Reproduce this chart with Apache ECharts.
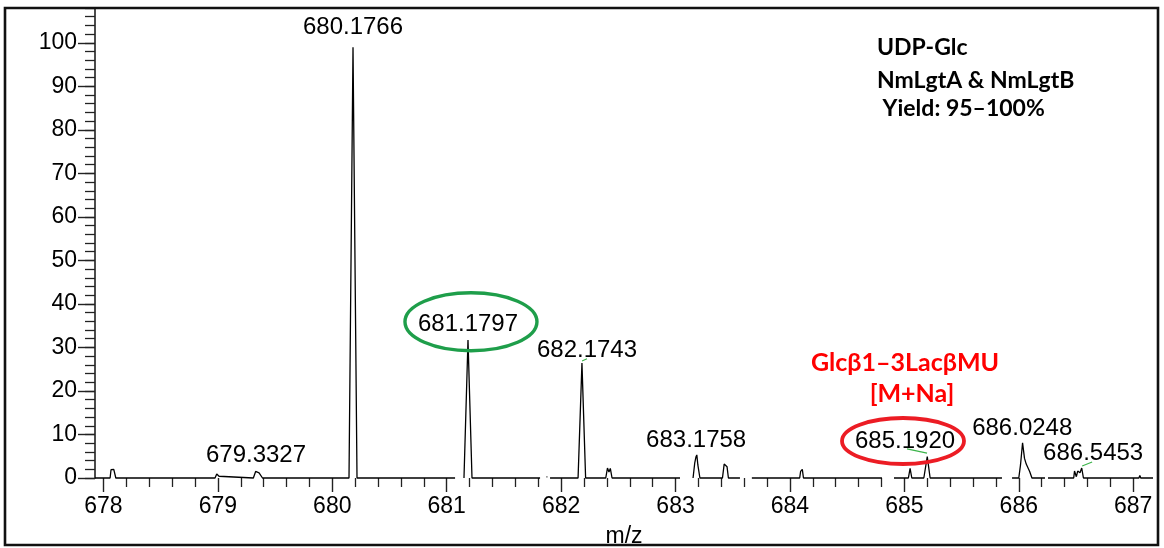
<!DOCTYPE html>
<html><head><meta charset="utf-8">
<script src="https://cdn.jsdelivr.net/npm/echarts@6/dist/echarts.min.js"></script>
<style>html,body{margin:0;padding:0;background:#fff}#c{width:1164px;height:548px}</style>
</head><body><div id="c"></div>
<script>
// ---- axis ticks ----
const xTicks = [678, 679, 680, 681, 682, 683, 684, 685, 686, 687];
const yTicks = [0, 10, 20, 30, 40, 50, 60, 70, 80, 90, 100];
const xRange = [677.926, 687.173];
const yRange = [0, 108];

// ---- spectrum trace (m/z, relative abundance); null = break in trace ----
const traceMz = [
  677.926, 678.058, 678.066, 678.075, 678.090, 678.100, 678.108, 678.975, 678.990, 679.005, 679.010, 679.020,
  679.310, 679.330, 679.345, 679.360, 679.390, 680.146, 680.181, 680.216, 681.073, null,
  681.151, 681.186, 681.221, 681.816, null,
  681.872, 681.880, null,
  681.903, 682.148, 682.182, 682.214, 682.390, 682.405, 682.418, 682.430, 682.445, 683.039, null,
  683.153, 683.168, 683.178, 683.186, 683.195, 683.213, 683.410, 683.425, 683.440, 683.450, 683.462, 683.563, null,
  683.667, 684.085, 684.093, 684.100, 684.108, 684.118, 684.804, null,
  684.909, 685.035, 685.050, 685.065, 685.170, 685.200, 685.225, 685.853, null,
  685.941, 686.000, 686.015, 686.033, 686.050, 686.065, 686.080, 686.095, 686.115, 686.229, null,
  686.255, 686.480, 686.487, 686.495, 686.503, 686.515, 686.525, 686.535, 686.550, 686.565, 687.050, 687.058, 687.066, 687.173
];
const traceInt = [
  0, 0, 1.9, 2.1, 2.0, 1.6, 0, 0, 0.9, 1.0, 0.4, 0,
  0, 1.5, 1.7, 1.2, 0, 0, 99, 0, 0, null,
  0, 31.7, 0, 0, null,
  0.25, 0.25, null,
  0, 0, 26.4, 0, 0, 2.3, 1.4, 2.2, 0, 0, null,
  0, 3.5, 4.8, 5.3, 3.0, 0, 0, 3.2, 3.4, 2.6, 0, 0, null,
  0, 0, 1.5, 1.3, 2.0, 0, 0, null,
  0, 0, 2.2, 0, 0, 4.9, 0, 0, null,
  0, 0, 3.0, 8.1, 4.5, 3.2, 3.6, 1.5, 0, 0, null,
  0, 0, 1.6, 1.4, 0.3, 1.6, 2.0, 1.2, 2.3, 0, 0, 0.6, 0, 0
];

// ---- peak labels (text, label centre m/z, label centre abundance) ----
const peakLabelText = ['679.3327', '680.1766', '681.1797', '682.1743', '683.1758', '685.1920', '686.0248', '686.5453'];
const peakLabelMz   = [679.333, 680.181, 681.186, 682.226, 683.180, 685.006, 686.030, 686.650];
const peakLabelInt  = [5.3, 103.6, 35.2, 29.4, 8.7, 8.5, 11.5, 5.7];

// ---- green leader lines ----
const leaderMz  = [682.183, 682.226, null, 685.023, 685.198, null, 686.554, 686.641];
const leaderInt = [26.9, 27.4, null, 6.7, 5.7, null, 2.76, 3.68];

// ---- highlight ellipses (centre m/z, centre abundance) ----
const ellipseMz  = [681.212, 684.988];
const ellipseInt = [35.9, 8.5];

const annotationLines = ['UDP-Glc', 'NmLgtA & NmLgtB', ' Yield: 95–100%'];
const productLines = ['Glcβ1–3LacβMU', '[M+Na]'];

// minor tick positions
const xMinor = [];
for (let i = 0; i < xTicks.length - 1; i++) for (let k = 1; k < 5; k++) xMinor.push(+(xTicks[i] + k * 0.2).toFixed(1));
const yMinor = [];
for (let v = 0; v <= 108; v += 2) yMinor.push(v);

const trace = traceMz.map((m, i) => m === null ? ['-', '-'] : [m, traceInt[i]]);
const leaders = leaderMz.map((m, i) => m === null ? ['-', '-'] : [m, leaderInt[i]]);
const labelPts = peakLabelText.map((t, i) => ({ name: t, value: [peakLabelMz[i], peakLabelInt[i]] }));

const NUMF = "'Liberation Sans', Arial, sans-serif";
const BOLDF = "Lato, 'Noto Sans', sans-serif";
const chart = echarts.init(document.getElementById('c'), null, { renderer: 'canvas' });

const option = {
  animation: false,
  backgroundColor: '#fff',
  grid: { left: 95, right: 11, top: 8, bottom: 70, containLabel: false, outerBoundsMode: 'none' },
  xAxis: [
    {
      type: 'value', min: xRange[0], max: xRange[1],
      name: 'm/z', nameLocation: 'middle', nameGap: 47,
      nameTextStyle: { fontFamily: NUMF, fontSize: 23, color: '#000' },
      axisLine: { show: false },
      axisTick: { show: true, inside: false, length: 14, customValues: xTicks, lineStyle: { color: '#222', width: 1.4 } },
      axisLabel: { show: true, margin: 17, customValues: xTicks, fontFamily: NUMF, fontSize: 23, color: '#000' },
      splitLine: { show: false }
    },
    {
      type: 'value', min: xRange[0], max: xRange[1], position: 'bottom',
      axisLine: { show: false },
      axisTick: { show: true, inside: false, length: 9, customValues: xMinor, lineStyle: { color: '#222', width: 1.3 } },
      axisLabel: { show: false },
      splitLine: { show: false }
    }
  ],
  yAxis: [
    {
      type: 'value', min: yRange[0], max: yRange[1],
      axisLine: { show: true, lineStyle: { color: '#111', width: 1.5 } },
      axisTick: { show: true, inside: false, length: 17, customValues: yTicks, lineStyle: { color: '#222', width: 1.4 } },
      axisLabel: { show: true, margin: 18, customValues: yTicks, fontFamily: NUMF, fontSize: 23, color: '#000' },
      splitLine: { show: false }
    },
    {
      type: 'value', min: yRange[0], max: yRange[1], position: 'left',
      axisLine: { show: false },
      axisTick: { show: true, inside: false, length: 10, customValues: yMinor, lineStyle: { color: '#222', width: 1.3 } },
      axisLabel: { show: false },
      splitLine: { show: false }
    }
  ],
  series: [
    {
      type: 'line', xAxisIndex: 0, yAxisIndex: 0, data: trace, showSymbol: false, symbol: 'none',
      connectNulls: false, clip: false,
      lineStyle: { color: '#000', width: 1.3 }, z: 3
    },
    {
      type: 'line', xAxisIndex: 0, yAxisIndex: 0, data: leaders, showSymbol: false, symbol: 'none',
      connectNulls: false, lineStyle: { color: '#3cb44b', width: 1.2 }, z: 4
    },
    {
      type: 'scatter', xAxisIndex: 0, yAxisIndex: 0, data: labelPts, symbolSize: 0, silent: true,
      itemStyle: { color: '#000', opacity: 0 },
      label: { show: true, position: 'inside', formatter: '{b}', fontFamily: NUMF, fontSize: 24,
               color: '#000', textBorderWidth: 0, opacity: 1 },
      z: 5
    }
  ]
};
chart.setOption(option);

const gc = ellipseMz.map((m, i) => chart.convertToPixel({ xAxisIndex: 0, yAxisIndex: 0 }, [m, ellipseInt[i]]));
chart.setOption({
  graphic: [
    { type: 'rect', shape: { x: 5, y: 8, width: 1153, height: 537 }, style: { fill: 'none', stroke: '#111', lineWidth: 2.6 }, z: 10, silent: true },
    { type: 'ellipse', shape: { cx: gc[0][0], cy: gc[0][1], rx: 66, ry: 29 }, style: { fill: 'none', stroke: '#1e9e4a', lineWidth: 3.4 }, z: 10, silent: true },
    { type: 'ellipse', shape: { cx: gc[1][0], cy: gc[1][1], rx: 61, ry: 23 }, style: { fill: 'none', stroke: '#ec1c24', lineWidth: 3.8 }, z: 10, silent: true },
    { type: 'text', x: 877, y: 48, style: { text: annotationLines[0], font: "bold 23px " + BOLDF, fill: '#000', verticalAlign: 'middle' }, z: 10 },
    { type: 'text', x: 877, y: 81, style: { text: annotationLines[1], font: "bold 23px " + BOLDF, fill: '#000', verticalAlign: 'middle' }, z: 10 },
    { type: 'text', x: 877, y: 109, style: { text: annotationLines[2], font: "bold 23px " + BOLDF, fill: '#000', verticalAlign: 'middle' }, z: 10 },
    { type: 'text', x: 905, y: 363, style: { text: productLines[0], font: "bold 25px " + BOLDF, fill: '#ff0000', align: 'center', verticalAlign: 'middle' }, z: 10 },
    { type: 'text', x: 912, y: 394, style: { text: productLines[1], font: "bold 25px " + BOLDF, fill: '#ff0000', align: 'center', verticalAlign: 'middle' }, z: 10 }
  ]
});
</script>
</body></html>
